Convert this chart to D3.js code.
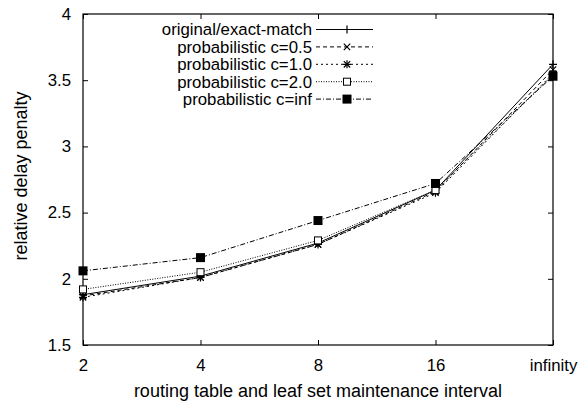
<!DOCTYPE html>
<html>
<head>
<meta charset="utf-8">
<script src="https://cdn.jsdelivr.net/npm/d3@7"></script>
<style>
  html, body { margin: 0; padding: 0; background: #fff; }
  svg { display: block; font-family: "Liberation Sans", Arial, Helvetica, sans-serif; }
</style>
</head>
<body>
<svg id="chart" width="587" height="403"></svg>
<script>
// Maintenance intervals on the x axis (categorical, evenly spaced)
const intervals = ["2", "4", "8", "16", "infinity"];

// Relative delay penalty per routing scheme
const seriesNames = [
  "original/exact-match",
  "probabilistic c=0.5",
  "probabilistic c=1.0",
  "probabilistic c=2.0",
  "probabilistic c=inf"
];
const original = [1.88, 2.02, 2.27, 2.67, 3.62];
const prob05   = [1.87, 2.01, 2.26, 2.66, 3.58];
const prob10   = [1.86, 2.01, 2.26, 2.65, 3.55];
const prob20   = [1.92, 2.05, 2.29, 2.67, 3.54];
const probInf  = [2.06, 2.16, 2.44, 2.72, 3.53];

const yTicks = [1.5, 2, 2.5, 3, 3.5, 4];

const seriesValues = [original, prob05, prob10, prob20, probInf];
const dashes = [null, "4,3", "2,3", "1,1.5", "5,2,1,2"];
const markers = ["plus", "cross", "star", "square", "fsquare"];

const svg = d3.select("#chart");
const m = { left: 83, right: 553, top: 14, bottom: 345 };
const fs = 16.8;

const x = d3.scalePoint().domain(intervals).range([m.left, m.right]);
const y = d3.scaleLinear().domain([1.5, 4]).range([m.bottom, m.top]);

const tickLen = 5;

// Frame
svg.append("rect")
  .attr("x", m.left).attr("y", m.top)
  .attr("width", m.right - m.left).attr("height", m.bottom - m.top)
  .attr("fill", "none").attr("stroke", "#000").attr("stroke-width", 1.2);

// Axes with inward ticks
const yAxis = d3.axisLeft(y).tickValues(yTicks).tickSize(-tickLen).tickPadding(12)
  .tickFormat(d3.format("~g"));
const gy = svg.append("g").attr("transform", `translate(${m.left},0)`).call(yAxis);
const xAxis = d3.axisBottom(x).tickSize(-tickLen);
const gx = svg.append("g").attr("transform", `translate(0,${m.bottom})`).call(xAxis);
[gx, gy].forEach(g => {
  g.select(".domain").remove();
  g.selectAll(".tick line").attr("stroke", "#000").attr("stroke-width", 1);
  g.selectAll(".tick text").attr("font-size", fs).attr("fill", "#000")
    .attr("font-family", "Liberation Sans, Arial, sans-serif");
});
gx.selectAll(".tick text").attr("y", 26).attr("dy", 0);

// Mirrored ticks on the right and top edges
svg.append("g").attr("transform", `translate(${m.right},0)`)
  .call(d3.axisRight(y).tickValues(yTicks).tickSize(-tickLen).tickFormat(""))
  .call(g => g.select(".domain").remove());
svg.append("g").attr("transform", `translate(0,${m.top})`)
  .call(d3.axisTop(x).tickSize(-tickLen).tickFormat(""))
  .call(g => g.select(".domain").remove());

// Axis titles
svg.append("text")
  .attr("x", (m.left + m.right) / 2).attr("y", 397)
  .attr("text-anchor", "middle").attr("font-size", 18)
  .text("routing table and leaf set maintenance interval");
svg.append("text")
  .attr("transform", `translate(27,176) rotate(-90)`)
  .attr("text-anchor", "middle").attr("font-size", 18)
  .text("relative delay penalty");

// Point markers
function drawMarker(g, type, cx, cy) {
  const s = 4;
  if (type === "plus" || type === "star") {
    g.append("path").attr("d", `M${cx - s},${cy}H${cx + s}M${cx},${cy - s}V${cy + s}`)
      .attr("stroke", "#000").attr("stroke-width", 1.2).attr("fill", "none");
  }
  if (type === "cross" || type === "star") {
    const c = 3.2;
    g.append("path").attr("d", `M${cx - c},${cy - c}L${cx + c},${cy + c}M${cx - c},${cy + c}L${cx + c},${cy - c}`)
      .attr("stroke", "#000").attr("stroke-width", 1.2).attr("fill", "none");
  }
  if (type === "square") {
    g.append("rect").attr("x", cx - 3.5).attr("y", cy - 3.5).attr("width", 7).attr("height", 7)
      .attr("fill", "#fff").attr("stroke", "#000").attr("stroke-width", 1);
  }
  if (type === "fsquare") {
    g.append("rect").attr("x", cx - 4.5).attr("y", cy - 4.5).attr("width", 9).attr("height", 9)
      .attr("fill", "#000");
  }
}

const line = d3.line().x((d, i) => x(intervals[i])).y(d => y(d));

seriesValues.forEach((vals, k) => {
  const g = svg.append("g");
  g.append("path").datum(vals).attr("d", line)
    .attr("fill", "none").attr("stroke", "#000").attr("stroke-width", 1)
    .attr("stroke-dasharray", dashes[k]);
  vals.forEach((v, i) => drawMarker(g, markers[k], x(intervals[i]), y(v)));
});

// Legend
const legX = 312, legY0 = 29.5, legDy = 17.4;
seriesNames.forEach((name, k) => {
  const cy = legY0 + k * legDy;
  const g = svg.append("g");
  g.append("text").attr("x", legX).attr("y", cy).attr("dy", "0.35em")
    .attr("text-anchor", "end").attr("font-size", fs).text(name);
  g.append("line").attr("x1", 316).attr("x2", 373).attr("y1", cy).attr("y2", cy)
    .attr("stroke", "#000").attr("stroke-width", 1).attr("stroke-dasharray", dashes[k]);
  drawMarker(g, markers[k], 347, cy);
});
</script>
</body>
</html>
